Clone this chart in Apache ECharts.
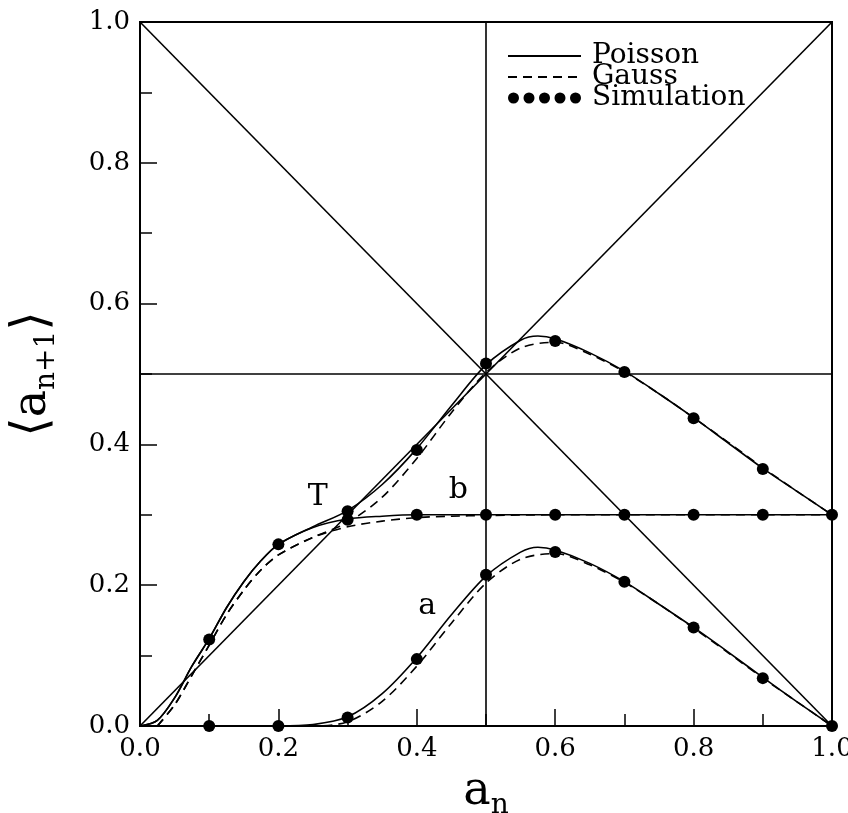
<!DOCTYPE html>
<html lang="en">
<head>
  <meta charset="UTF-8">
  <title>a(n+1) vs a(n)</title>
  <style>
    html, body { margin: 0; padding: 0; background: #fff; }
    #myEcharts { width: 848px; height: 813px; }
  </style>
  <script src="https://cdn.jsdelivr.net/npm/echarts@6/dist/echarts.min.js"></script>
</head>
<body>
  <div id="myEcharts"></div>
  <script>
    // tick labels on both axes
    var tickValues = [0, 0.2, 0.4, 0.6, 0.8, 1.0];

    // Poisson curves (solid)
    var poissonTop = [[0,0],[0.025,0.008],[0.05,0.04],[0.075,0.085],[0.1,0.124],[0.125,0.168],[0.15,0.205],[0.175,0.235],[0.2,0.258],[0.25,0.283],[0.3,0.306],[0.35,0.343],[0.4,0.394],[0.45,0.455],[0.5,0.513],[0.55,0.548],[0.575,0.554],[0.6,0.55],[0.65,0.53],[0.7,0.504],[0.75,0.472],[0.8,0.438],[0.85,0.402],[0.9,0.366],[0.95,0.333],[1.0,0.3]];
    var poissonB = [[0,0],[0.025,0.008],[0.05,0.04],[0.075,0.085],[0.1,0.124],[0.125,0.168],[0.15,0.205],[0.175,0.235],[0.2,0.258],[0.25,0.282],[0.3,0.294],[0.35,0.298],[0.4,0.3],[0.5,0.3],[0.6,0.3],[0.7,0.3],[0.8,0.3],[0.9,0.3],[1.0,0.3]];
    var poissonA = [[0,0],[0.2,0],[0.25,0.002],[0.3,0.013],[0.35,0.046],[0.4,0.097],[0.45,0.158],[0.5,0.213],[0.55,0.247],[0.575,0.254],[0.6,0.25],[0.65,0.231],[0.7,0.205],[0.75,0.173],[0.8,0.14],[0.85,0.105],[0.9,0.069],[0.95,0.034],[1.0,0]];

    // Gauss curves (dashed)
    var gaussTop = [[0.025,0],[0.05,0.03],[0.075,0.072],[0.1,0.115],[0.125,0.158],[0.15,0.193],[0.175,0.222],[0.2,0.243],[0.25,0.268],[0.3,0.289],[0.35,0.325],[0.4,0.38],[0.45,0.445],[0.5,0.502],[0.55,0.537],[0.6,0.545],[0.65,0.528],[0.7,0.503],[0.75,0.472],[0.8,0.438],[0.85,0.403],[0.9,0.367],[0.95,0.333],[1.0,0.3]];
    var gaussB = [[0.025,0],[0.05,0.03],[0.075,0.072],[0.1,0.115],[0.125,0.158],[0.15,0.193],[0.175,0.222],[0.2,0.243],[0.25,0.268],[0.3,0.283],[0.35,0.291],[0.4,0.296],[0.45,0.298],[0.5,0.299],[0.6,0.3],[0.7,0.3],[0.8,0.3],[0.9,0.3],[1.0,0.3]];
    var gaussA = [[0.2,0],[0.25,0],[0.3,0.006],[0.35,0.035],[0.4,0.085],[0.45,0.146],[0.5,0.203],[0.55,0.237],[0.6,0.245],[0.65,0.229],[0.7,0.204],[0.75,0.173],[0.8,0.139],[0.85,0.104],[0.9,0.068],[0.95,0.034],[1.0,0]];

    // simulation points
    var simTop = [[0.3,0.305],[0.4,0.392],[0.5,0.515],[0.6,0.547],[0.7,0.503],[0.8,0.437],[0.9,0.365]];
    var simB = [[0.1,0.123],[0.2,0.258],[0.3,0.293],[0.4,0.3],[0.5,0.3],[0.6,0.3],[0.7,0.3],[0.8,0.3],[0.9,0.3],[1.0,0.3]];
    var simA = [[0.1,0],[0.2,0],[0.3,0.012],[0.4,0.095],[0.5,0.215],[0.6,0.247],[0.7,0.205],[0.8,0.14],[0.9,0.068],[1.0,0]];

    // straight reference lines
    var diagUp = [[0,0],[1,1]];
    var diagDown = [[0,1],[1,0]];
    var midVert = [[0.5,0],[0.5,1]];
    var midHoriz = [[0,0.5],[1,0.5]];

    // curve labels
    var noteNames = ['T', 'b', 'a'];
    var notePos = [[0.257,0.325],[0.46,0.335],[0.415,0.17]];

    var serif = 'DejaVu Serif';
    var dotsIcon = 'path://M0,5.5a5.5,5.5 0 1,0 11,0a5.5,5.5 0 1,0 -11,0Z' +
      'M15.5,5.5a5.5,5.5 0 1,0 11,0a5.5,5.5 0 1,0 -11,0Z' +
      'M31,5.5a5.5,5.5 0 1,0 11,0a5.5,5.5 0 1,0 -11,0Z' +
      'M46.5,5.5a5.5,5.5 0 1,0 11,0a5.5,5.5 0 1,0 -11,0Z' +
      'M62,5.5a5.5,5.5 0 1,0 11,0a5.5,5.5 0 1,0 -11,0Z';

    var nameRich = {
      a: { fontFamily: serif, fontSize: 46, lineHeight: 56, color: '#000' },
      sub: { fontFamily: serif, fontSize: 28, lineHeight: 34, verticalAlign: 'bottom', color: '#000' },
      br: { fontFamily: 'DejaVu Sans', fontSize: 50, lineHeight: 56, color: '#000' }
    };

    function axisCommon() {
      return {
        type: 'value', min: 0, max: 1, interval: 0.2,
        axisLine: { lineStyle: { color: '#000', width: 2 } },
        axisTick: { inside: true, length: 17, lineStyle: { color: '#000', width: 1.5 } },
        minorTick: { show: true, splitNumber: 2, length: 12, lineStyle: { color: '#000', width: 1.5 } },
        splitLine: { show: false },
        axisLabel: {
          fontFamily: serif, fontSize: 26, color: '#000', margin: 10,
          formatter: function (v) { return tickValues.indexOf(v) >= 0 ? v.toFixed(1) : ''; }
        }
      };
    }

    function solid(data, name) {
      return { name: name, type: 'line', data: data, smooth: 0.3, symbol: 'none', showSymbol: false,
        lineStyle: { color: '#000', width: 1.6 }, itemStyle: { color: '#000' } };
    }
    function dashed(data) {
      return { name: 'Gauss', type: 'line', data: data, smooth: 0.3, symbol: 'none', showSymbol: false,
        lineStyle: { color: '#000', width: 1.6, type: [9, 6] }, itemStyle: { color: '#000' } };
    }
    function dots(data) {
      return { name: 'Simulation', type: 'scatter', data: data, symbolSize: 12,
        itemStyle: { color: '#000', opacity: 1 } };
    }

    var xAxis = axisCommon();
    xAxis.name = '{a|a}{sub|n}';
    xAxis.nameLocation = 'middle';
    xAxis.nameGap = 38;
    xAxis.nameTextStyle = { rich: nameRich };

    var yAxis = axisCommon();
    yAxis.name = '{br|⟨}{a|a}{sub|n+1}{br|⟩}';
    yAxis.nameLocation = 'middle';
    yAxis.nameGap = 79;
    yAxis.nameTextStyle = { rich: nameRich };

    var notes = noteNames.map(function (n, i) { return { name: n, value: notePos[i] }; });

    // legend line icons without the symbol in the middle
    var noSymbol = { color: 'transparent', borderWidth: 0, opacity: 0 };

    var myChart = echarts.init(document.getElementById('myEcharts'), null, { renderer: 'canvas' });
    var option = {
      animation: false,
      backgroundColor: '#fff',
      grid: { left: 140, right: 16, top: 22, bottom: 87, outerBoundsMode: 'none',
        show: true, borderColor: '#000', borderWidth: 2 },
      xAxis: xAxis,
      yAxis: yAxis,
      legend: {
        orient: 'vertical', left: 502, top: 37,
        itemWidth: 73, itemHeight: 11, itemGap: -7,
        textStyle: { fontFamily: serif, fontSize: 28, lineHeight: 22, color: '#000', padding: [0, 0, 0, 6] },
        data: [
          { name: 'Poisson', itemStyle: noSymbol },
          { name: 'Gauss', itemStyle: noSymbol },
          { name: 'Simulation', icon: dotsIcon, itemStyle: { color: '#000', opacity: 1 } }
        ]
      },
      series: [
        solid(diagUp, 'ref'), solid(diagDown, 'ref'), solid(midVert, 'ref'), solid(midHoriz, 'ref'),
        solid(poissonTop, 'Poisson'), solid(poissonB, 'Poisson'), solid(poissonA, 'Poisson'),
        dashed(gaussTop), dashed(gaussB), dashed(gaussA),
        dots(simTop), dots(simB), dots(simA),
        {
          name: 'notes', type: 'scatter', data: notes, symbolSize: 1,
          itemStyle: { color: 'transparent' },
          label: { show: true, position: 'inside', formatter: '{b}', fontFamily: serif, fontSize: 30,
            color: '#000', opacity: 1 }
        }
      ]
    };
    myChart.setOption(option);
  </script>
</body>
</html>
